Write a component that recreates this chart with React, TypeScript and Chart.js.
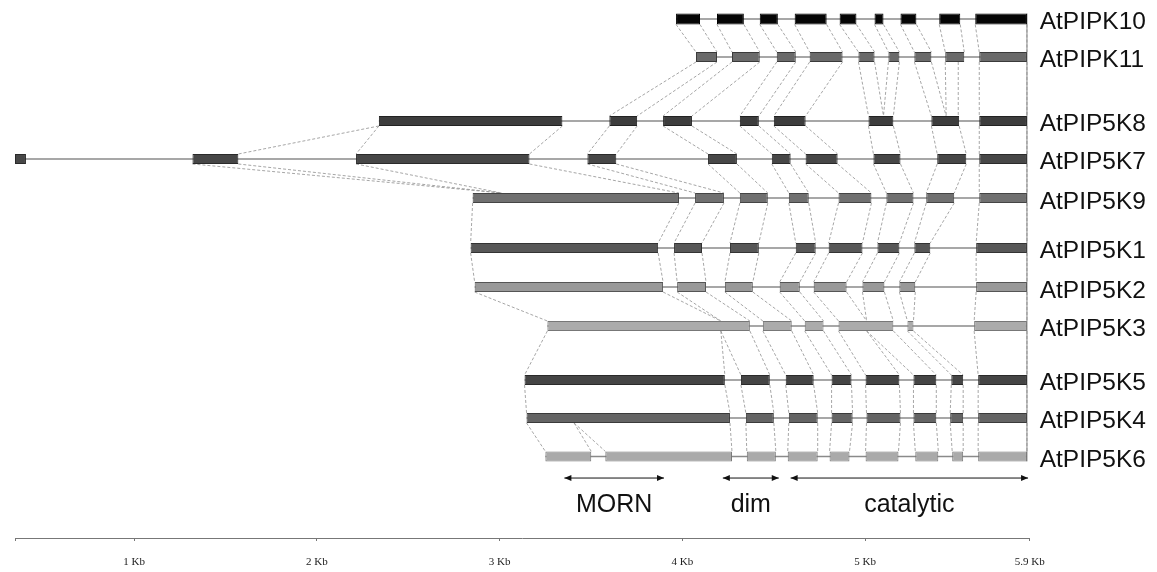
import React, { useEffect, useRef } from "react";
import { Chart, registerables } from "chart.js";
Chart.register(...registerables);

// ---- data (positions in Kb) ----
const genes = ["AtPIPK10", "AtPIPK11", "AtPIP5K8", "AtPIP5K7", "AtPIP5K9", "AtPIP5K1", "AtPIP5K2", "AtPIP5K3", "AtPIP5K5", "AtPIP5K4", "AtPIP5K6"];
const rowPos = [0, 1, 2.684, 3.684, 4.711, 6.026, 7.053, 8.079, 9.5, 10.5, 11.51];

const exonsK10 = [[3.965, 4.096], [4.189, 4.336], [4.423, 4.522], [4.614, 4.789], [4.86, 4.952], [5.051, 5.1], [5.193, 5.28], [5.405, 5.52], [5.602, 5.885]];
const exonsK11 = [[4.074, 4.189], [4.271, 4.423], [4.516, 4.62], [4.696, 4.876], [4.963, 5.051], [5.127, 5.187], [5.269, 5.362], [5.438, 5.542], [5.624, 5.885]];
const exonsK8 = [[2.339, 3.343], [3.6, 3.752], [3.894, 4.052], [4.314, 4.418], [4.5, 4.674], [5.018, 5.154], [5.362, 5.514], [5.624, 5.885]];
const exonsK7 = [[0.348, 0.408], [1.319, 1.57], [2.214, 3.163], [3.48, 3.638], [4.14, 4.298], [4.489, 4.592], [4.674, 4.849], [5.045, 5.193], [5.394, 5.553], [5.624, 5.885]];
const exonsK9 = [[2.852, 3.981], [4.069, 4.227], [4.314, 4.467], [4.582, 4.691], [4.854, 5.034], [5.116, 5.264], [5.334, 5.487], [5.624, 5.885]];
const exonsK1 = [[2.841, 3.867], [3.954, 4.107], [4.26, 4.418], [4.62, 4.729], [4.8, 4.985], [5.067, 5.187], [5.269, 5.356], [5.607, 5.885]];
const exonsK2 = [[2.863, 3.894], [3.971, 4.129], [4.232, 4.385], [4.532, 4.642], [4.718, 4.898], [4.985, 5.105], [5.187, 5.274], [5.607, 5.885]];
const exonsK3 = [[3.261, 4.369], [4.44, 4.598], [4.669, 4.772], [4.854, 5.154], [5.231, 5.264], [5.596, 5.885]];
const exonsK5 = [[3.136, 4.232], [4.32, 4.478], [4.565, 4.718], [4.816, 4.925], [5.002, 5.187], [5.264, 5.389], [5.471, 5.536], [5.618, 5.885]];
const exonsK4 = [[3.147, 4.26], [4.347, 4.5], [4.582, 4.74], [4.816, 4.931], [5.007, 5.193], [5.264, 5.389], [5.465, 5.536], [5.618, 5.885]];
const exonsK6 = [[3.25, 3.501], [3.578, 4.271], [4.352, 4.511], [4.576, 4.74], [4.805, 4.914], [5.002, 5.182], [5.274, 5.4], [5.476, 5.536], [5.618, 5.885]];
const geneExons = [exonsK10, exonsK11, exonsK8, exonsK7, exonsK9, exonsK1, exonsK2, exonsK3, exonsK5, exonsK4, exonsK6];

// homology links between neighbouring rows: exon index pairs + extra [topKb, bottomKb]
const links = [
  { top: 0, map: [[0, 0], [1, 1], [2, 2], [3, 3], [4, 4], [5, 5], [6, 6], [7, 7], [8, 8]], extra: [] },
  { top: 1, map: [[0, 1], [1, 2], [2, 3], [3, 4], [8, 7]], extra: [[4.963, 5.018], [5.051, 5.1], [5.127, 5.1], [5.187, 5.154], [5.269, 5.362], [5.362, 5.443], [5.438, 5.443], [5.509, 5.509]] },
  { top: 2, map: [[1, 3], [2, 4], [3, 5], [4, 6], [5, 7], [6, 8], [7, 9]], extra: [[2.339, 1.57], [2.339, 2.214], [3.343, 3.163]] },
  { top: 3, map: [[3, 1], [4, 2], [5, 3], [6, 4], [7, 5], [8, 6], [9, 7]], extra: [[1.319, 3.01], [1.57, 3.01], [2.214, 3.01], [3.163, 3.981]] },
  { top: 4, map: [[0, 0], [1, 1], [2, 2], [3, 3], [4, 4], [5, 5], [6, 6], [7, 7]], extra: [] },
  { top: 5, map: [[0, 0], [1, 1], [2, 2], [3, 3], [4, 4], [5, 5], [6, 6], [7, 7]], extra: [] },
  { top: 6, map: [[2, 1], [3, 2], [6, 4], [7, 5]], extra: [[2.863, 3.261], [3.894, 4.21], [3.971, 4.21], [4.129, 4.369], [4.718, 4.854], [4.898, 5.008], [4.985, 5.008], [5.105, 5.154]] },
  { top: 7, map: [[1, 2], [2, 3], [5, 7]], extra: [[3.261, 3.136], [4.21, 4.232], [4.21, 4.32], [4.369, 4.478], [4.854, 5.002], [5.008, 5.187], [5.008, 5.264], [5.154, 5.389], [5.231, 5.471], [5.264, 5.536]] },
  { top: 8, map: [[0, 0], [1, 1], [2, 2], [3, 3], [4, 4], [5, 5], [6, 6], [7, 7]], extra: [] },
  { top: 9, map: [[1, 2], [2, 3], [3, 4], [4, 5], [5, 6], [6, 7], [7, 8]], extra: [[3.147, 3.25], [3.407, 3.501], [3.407, 3.578], [4.26, 4.271]] },
];

const domainNames = ["MORN", "dim", "catalytic"];
const domainStart = [3.354, 4.221, 4.592];
const domainEnd = [3.899, 4.527, 5.891];
const domainArrowRow = 12.08;
const domainLabelRow = 12.97;

const tickValues = [0.348, 1, 2, 3, 4, 5, 5.9];
const tickLabels = ["", "1 Kb", "2 Kb", "3 Kb", "4 Kb", "5 Kb", "5.9 Kb"];

// ---- styles ----
const fills = ["#050505", "#6a6a6a", "#3d3d3d", "#474747", "#707070", "#575757", "#999999", "#ababab", "#454545", "#646464", "#aaaaaa"];
const borders = ["#000000", "#3a3a3a", "#222222", "#2a2a2a", "#444444", "#333333", "#555555", "#777777", "#2a2a2a", "#3a3a3a", "#777777"];
const thick = [11, 10, 10, 10, 10, 10, 10, 10, 10, 10, 10];

const overlayPlugin = {
  id: "geneOverlay",
  beforeDatasetsDraw(chart: any) {
    const { ctx, scales } = chart;
    const xs = scales.x, ys = scales.y;
    ctx.save();
    ctx.strokeStyle = "#8f8f8f";
    ctx.lineWidth = 0.8;
    ctx.setLineDash([3, 2]);
    links.forEach((l) => {
      const t = l.top, b = l.top + 1;
      const yT = ys.getPixelForValue(rowPos[t]) + thick[t] / 2;
      const yB = ys.getPixelForValue(rowPos[b]) - thick[b] / 2;
      const pairs: number[][] = [];
      l.map.forEach(([ti, bi]) => {
        pairs.push([geneExons[t][ti][0], geneExons[b][bi][0]]);
        pairs.push([geneExons[t][ti][1], geneExons[b][bi][1]]);
      });
      l.extra.forEach((p) => pairs.push(p));
      pairs.forEach(([a, c]) => {
        ctx.beginPath();
        ctx.moveTo(xs.getPixelForValue(a), yT);
        ctx.lineTo(xs.getPixelForValue(c), yB);
        ctx.stroke();
      });
    });
    ctx.setLineDash([]);
    // right boundary line
    const xr = xs.getPixelForValue(5.885);
    ctx.strokeStyle = "#888";
    ctx.lineWidth = 1;
    ctx.beginPath();
    ctx.moveTo(xr, ys.getPixelForValue(rowPos[0]) - thick[0] / 2);
    ctx.lineTo(xr, ys.getPixelForValue(rowPos[10]) + thick[10] / 2);
    ctx.stroke();
    ctx.restore();
  },
  afterDraw(chart: any) {
    const { ctx, scales } = chart;
    const xs = scales.x, ys = scales.y;
    ctx.save();
    ctx.fillStyle = "#111";
    ctx.font = "24.5px 'Liberation Sans', Arial, sans-serif";
    ctx.textAlign = "left";
    ctx.textBaseline = "alphabetic";
    genes.forEach((g, i) => {
      ctx.fillText(g, xs.right + 10, ys.getPixelForValue(rowPos[i]) + 10.5);
    });
    // domain arrows
    const ya = ys.getPixelForValue(domainArrowRow);
    const yl = ys.getPixelForValue(domainLabelRow);
    ctx.strokeStyle = "#111";
    ctx.lineWidth = 1;
    ctx.font = "25px 'Liberation Sans', Arial, sans-serif";
    ctx.textAlign = "center";
    domainNames.forEach((n, i) => {
      const a = xs.getPixelForValue(domainStart[i]);
      const b = xs.getPixelForValue(domainEnd[i]);
      ctx.beginPath();
      ctx.moveTo(a, ya);
      ctx.lineTo(b, ya);
      ctx.stroke();
      ctx.beginPath();
      ctx.moveTo(a, ya); ctx.lineTo(a + 7, ya - 3); ctx.lineTo(a + 7, ya + 3); ctx.closePath();
      ctx.moveTo(b, ya); ctx.lineTo(b - 7, ya - 3); ctx.lineTo(b - 7, ya + 3); ctx.closePath();
      ctx.fill();
      ctx.fillText(n, (a + b) / 2, yl);
    });
    ctx.restore();
  },
};

export default function App() {
  const ref = useRef<HTMLCanvasElement>(null);
  useEffect(() => {
    if (!ref.current) return;
    const datasets: any[] = [];
    geneExons.forEach((ex, i) => {
      datasets.push({
        type: "line",
        indexAxis: "x",
        data: [{ x: ex[0][0], y: rowPos[i] }, { x: ex[ex.length - 1][1], y: rowPos[i] }],
        borderColor: "#8a8a8a",
        borderWidth: 1.5,
        pointRadius: 0,
        order: 5,
      });
    });
    geneExons.forEach((ex, i) => {
      datasets.push({
        type: "bar",
        indexAxis: "y",
        label: genes[i],
        data: ex.map((e) => ({ x: [e[0], e[1]], y: rowPos[i] })),
        backgroundColor: fills[i],
        borderColor: borders[i],
        borderWidth: 1,
        borderSkipped: false,
        grouped: false,
        barPercentage: 1,
        maxBarThickness: thick[i],
        order: 1,
      });
    });
    const chart = new Chart(ref.current, {
      type: "bar",
      data: { datasets },
      options: {
        animation: false,
        responsive: false,
        devicePixelRatio: 1,
        layout: { padding: { left: 12, right: 127.3, top: 0, bottom: 0 } },
        plugins: { legend: { display: false }, tooltip: { enabled: false } },
        scales: {
          x: {
            type: "linear",
            position: "bottom",
            offset: false,
            min: 0.348,
            max: 5.9,
            afterBuildTicks: (s: any) => { s.ticks = tickValues.map((v) => ({ value: v })); },
            afterFit: (s: any) => { s.height = 34; },
            grid: { offset: false, drawOnChartArea: false, drawTicks: true, tickLength: 3, color: "#777" },
            border: { display: true, color: "#777", width: 1 },
            ticks: {
              padding: 15,
              autoSkip: false,
              maxRotation: 0,
              color: "#222",
              font: { family: "'Liberation Serif', 'Times New Roman', serif", size: 11 },
              callback: (_v: any, idx: number) => tickLabels[idx],
            },
          },
          y: { type: "linear", offset: false, grid: { offset: false }, reverse: true, min: -0.5, max: 13.658, display: false },
        },
      } as any,
      plugins: [overlayPlugin],
    });
    return () => chart.destroy();
  }, []);
  return (
    <div style={{ position: "fixed", left: 0, top: 0, width: 1157, height: 572, background: "#fff" }}>
      <canvas ref={ref} width={1157} height={572} style={{ display: "block" }} />
    </div>
  );
}
